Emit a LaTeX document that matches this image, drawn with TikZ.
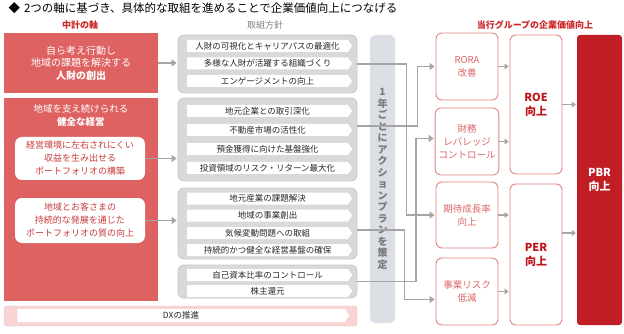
\documentclass[tikz,border=0pt]{standalone}
\usepackage{fontspec}
\setmainfont{Noto Sans CJK JP}
\usetikzlibrary{arrows.meta,shapes.symbols}

\definecolor{axisred}{RGB}{222,98,98}
\definecolor{innerred}{RGB}{200,60,60}
\definecolor{headred}{RGB}{205,40,40}
\definecolor{headgray}{RGB}{130,130,130}
\definecolor{grayfill}{RGB}{217,217,217}
\definecolor{grayline}{RGB}{200,200,200}
\definecolor{rowtext}{RGB}{40,40,40}
\definecolor{arrowgray}{RGB}{165,165,165}
\definecolor{planfill}{RGB}{220,222,230}
\definecolor{plantext}{RGB}{120,120,125}
\definecolor{dxpink}{RGB}{250,212,212}
\definecolor{boxline}{RGB}{228,130,130}
\definecolor{lightred}{RGB}{222,100,100}
\definecolor{darkred}{RGB}{190,20,25}
\definecolor{pbrred}{RGB}{192,30,36}

\tikzset{
  axisbox/.style={fill=axisred, text=white, align=center, minimum width=154pt, inner sep=0pt,
    font=\fontsize{10}{12.5}\selectfont},
  innerbox/.style={fill=white, rounded corners=7pt, text=innerred, align=center, minimum width=130pt,
    inner sep=0pt, font=\fontsize{9}{13}\selectfont},
  groupbox/.style={draw=grayline, fill=grayfill, rounded corners=6pt, line width=0.8pt, minimum width=179pt},
  rowbar/.style={signal, signal to=east, signal pointer angle=110, fill=white, minimum width=165pt,
    minimum height=12pt, inner sep=0pt, text=rowtext, font=\fontsize{8.5}{10}\selectfont},
  effectbox/.style={draw=boxline, fill=white, rounded corners=6pt, line width=0.9pt, minimum width=62pt,
    text=lightred, align=center, font=\fontsize{9.5}{13}\selectfont},
  targetbox/.style={draw=boxline, fill=white, rounded corners=6pt, line width=0.9pt, minimum width=52pt,
    text=darkred, align=center, font=\bfseries\fontsize{11}{14}\selectfont},
  conn/.style={draw=arrowgray, line width=1.6pt, shorten >=1pt, -{Triangle[length=5pt,width=7pt]}},
  smallconn/.style={draw=arrowgray, line width=1.4pt, shorten >=1pt, -{Triangle[length=4pt,width=6pt]}},
}

\begin{document}
\begin{tikzpicture}[x=1pt,y=-1pt]
\useasboundingbox (0,0) rectangle (624,334);

% title and headings
\node[anchor=west, font=\fontsize{11.5}{13}\selectfont] (title) at (5,8)
  {◆\hspace{4pt}2つの軸に基づき、具体的な取組を進めることで企業価値向上につなげる};
\node[text=headred, font=\bfseries\fontsize{9}{11}\selectfont] (axishead) at (80,25) {中計の軸};
\node[text=headgray, font=\fontsize{9}{11}\selectfont] (planhead) at (265,25) {取組方針};
\node[text=headred, font=\bfseries\fontsize{9}{11}\selectfont] (valuehead) at (535,25) {当行グループの企業価値向上};

% axes of the plan
\node[axisbox, minimum height=60pt] (axis1) at (81,63)
  {自ら考え行動し\\地域の課題を解決する\\\textbf{人財の創出}};
\node[axisbox, minimum height=203pt] (axis2) at (81,199.5) {};
\node[text=white, align=center, font=\fontsize{9.5}{12.5}\selectfont] (axis2title) at (81,115.5)
  {地域を支え続けられる\\\textbf{健全な経営}};
\node[innerbox, minimum height=43pt] (innA) at (80,158.5)
  {経営環境に左右されにくい\\収益を生み出せる\\ポートフォリオの構築};
\node[innerbox, minimum height=45pt] (innB) at (80,220.5)
  {地域とお客さまの\\持続的な発展を通じた\\ポートフォリオの質の向上};

% policy groups
\node[groupbox, minimum height=58pt] (g1) at (267.5,64) {};
\node[rowbar] (r11) at (267.5,46) {人財の可視化とキャリアパスの最適化};
\node[rowbar] (r12) at (267.5,63.5) {多様な人財が活躍する組織づくり};
\node[rowbar] (r13) at (267.5,81) {エンゲージメントの向上};

\node[groupbox, minimum height=83pt] (g2) at (267.5,139.5) {};
\node[rowbar] (r21) at (267.5,111) {地元企業との取引深化};
\node[rowbar] (r22) at (267.5,130) {不動産市場の活性化};
\node[rowbar] (r23) at (267.5,149) {預金獲得に向けた基盤強化};
\node[rowbar] (r24) at (267.5,168) {投資領域のリスク・リターン最大化};

\node[groupbox, minimum height=71pt] (g3) at (267.5,223.5) {};
\node[rowbar] (r31) at (267.5,198.5) {地元産業の課題解決};
\node[rowbar] (r32) at (267.5,215.5) {地域の事業創出};
\node[rowbar] (r33) at (267.5,233) {気候変動問題への取組};
\node[rowbar] (r34) at (267.5,250) {持続的かつ健全な経営基盤の確保};

\node[groupbox, minimum height=33pt] (g4) at (267.5,281.5) {};
\node[rowbar] (r41) at (267.5,275) {自己資本比率のコントロール};
\node[rowbar] (r42) at (267.5,291) {株主還元};

\node[draw=dxpink!80!gray, fill=dxpink, rounded corners=3pt, minimum width=353pt, minimum height=20pt] (dx) at (180.5,316) {};
\node[rowbar, minimum width=332pt, minimum height=13pt] (dxrow) at (181,315.5) {DXの推進};

% action plan bar
\node[fill=planfill, rounded corners=5pt, minimum width=25pt, minimum height=288pt, inner sep=0pt,
  align=center, text=plantext, font=\bfseries\fontsize{10}{11.5}\selectfont] (plan) at (382.5,179)
  {1\\年\\ご\\と\\に\\ア\\ク\\シ\\ョ\\ン\\プ\\ラ\\ン\\を\\策\\定};

% corporate value
\node[effectbox, minimum height=67pt] (rora) at (467,66.5) {RORA\\改善};
\node[effectbox, minimum height=67pt] (fin) at (467,141.5) {財務\\レバレッジ\\コントロール};
\node[effectbox, minimum height=66pt] (growth) at (467,215) {期待成長率\\向上};
\node[effectbox, minimum height=67pt] (risk) at (467,291.5) {事業リスク\\低減};
\node[targetbox, minimum height=139pt] (roe) at (536,104.5) {ROE\\向上};
\node[targetbox, minimum height=141pt] (per) at (536,254.5) {PER\\向上};
\node[fill=pbrred, rounded corners=3pt, minimum width=45pt, minimum height=290pt, text=white, align=center,
  font=\bfseries\fontsize{11}{14}\selectfont] (pbr) at (599.5,180) {PBR\\向上};

% connectors
\draw[conn] (axis1.east) -- (axis1.east -| g1.west);
\draw[conn] (innA.east) -- (innA.east -| g2.west);
\draw[conn] (innB.east) -- (innB.east -| g3.west);

\draw[conn] (g2.east |- 0,126) -| ([xshift=-18pt]rora.west) -- (rora.west);
\draw[conn] (g1.east) -| ([xshift=-29pt]growth.west) -- (growth.west);
\draw[conn] (g4.east) -| ([xshift=-19pt,yshift=3pt]fin.west) -- ([yshift=3pt]fin.west);
\draw[conn] (g3.east |- 0,230) -| ([xshift=-31pt,yshift=-8pt]risk.west) -- ([yshift=-8pt]risk.west);

\draw[smallconn] (rora.east) -- (rora.east -| roe.west);
\draw[smallconn] (fin.east) -- (fin.east -| roe.west);
\draw[smallconn] (growth.east) -- (growth.east -| per.west);
\draw[smallconn] (risk.east) -- (risk.east -| per.west);
\draw[smallconn] (roe.east) -- (roe.east -| pbr.west);
\draw[smallconn] (per.east |- 0,233) -- (pbr.west |- 0,233);
\end{tikzpicture}
\end{document}
